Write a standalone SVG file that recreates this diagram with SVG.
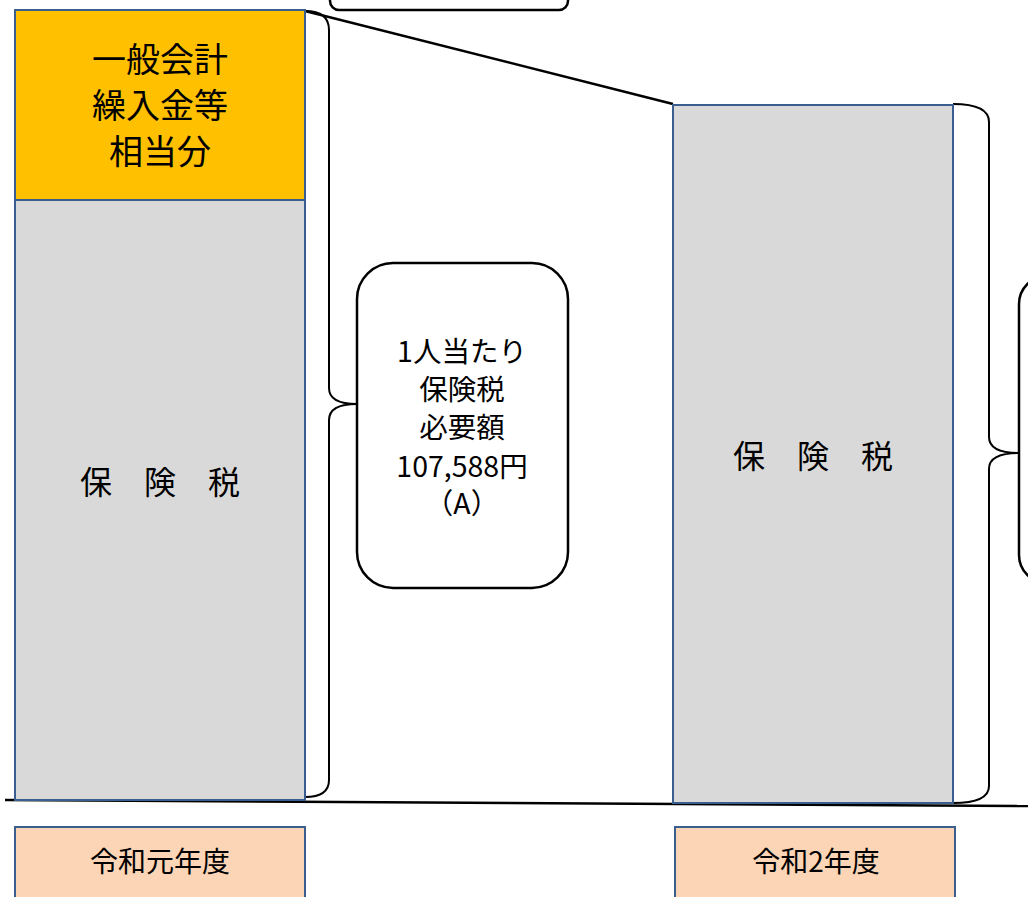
<svg xmlns="http://www.w3.org/2000/svg" width="1028" height="897" viewBox="0 0 1028 897">
<style>
text{font-family:"Noto Sans CJK JP","Noto Sans",sans-serif;fill:#000;text-anchor:middle}
.col{stroke:#3A5F8E;stroke-width:2}
.gray{fill:#D9D9D9}
.orange{fill:#FFC000}
.peach{fill:#FBD5B5}
.brace{fill:none;stroke:#000;stroke-width:2}
.rbox{fill:#fff;stroke:#000;stroke-width:2.5}
.big{font-size:34px}
.mid{font-size:28.5px}
.tax{font-size:32px}
.lbl{font-size:28px}
</style>
<rect width="1028" height="897" fill="#fff"/>
<g id="connectors">
<line x1="305" y1="11" x2="673" y2="104" stroke="#000" stroke-width="2.5"/>
<line x1="5" y1="800" x2="1028" y2="806" stroke="#000" stroke-width="2.5"/>
<path class="brace" d="M305,11 Q329,11 329,30 L329,388 Q329,404 357,404 Q329,404 329,420 L329,780 Q329,797 305,797"/>
<path class="brace" d="M953,104 Q989,104 989,122 L989,437 Q989,453 1019,453 Q989,453 989,469 L989,786 Q989,803 953,803"/>
</g>
<g id="top-box">
<rect class="rbox" x="330" y="-30" width="238" height="40" rx="9"/>
</g>
<g id="r1-general">
<rect class="col orange" x="15" y="10" width="290" height="190"/>
<text class="big" x="160" y="72">一般会計</text>
<text class="big" x="160" y="118">繰入金等</text>
<text class="big" x="160" y="164">相当分</text>
</g>
<g id="r1-tax">
<rect class="col gray" x="15" y="200" width="290" height="600"/>
<text class="tax" x="160" y="494">保　険　税</text>
</g>
<g id="r2-tax">
<rect class="col gray" x="673" y="105" width="280" height="698"/>
<text class="tax" x="813" y="468">保　険　税</text>
</g>
<g id="required">
<rect class="rbox" x="357" y="263" width="211" height="325" rx="36"/>
<text class="mid" x="462" y="362">1人当たり</text>
<text class="mid" x="462" y="400">保険税</text>
<text class="mid" x="462" y="438">必要額</text>
<text class="mid" x="462" y="477">107,588円</text>
<text class="mid" x="462" y="514">（A）</text>
</g>
<g id="right-box">
<rect class="rbox" x="1019" y="276" width="60" height="307" rx="28"/>
</g>
<g id="label-r1">
<rect class="col peach" x="15" y="827" width="290" height="80"/>
<text class="lbl" x="160" y="872">令和元年度</text>
</g>
<g id="label-r2">
<rect class="col peach" x="675" y="827" width="280" height="80"/>
<text class="lbl" x="816" y="872">令和2年度</text>
</g>
</svg>
